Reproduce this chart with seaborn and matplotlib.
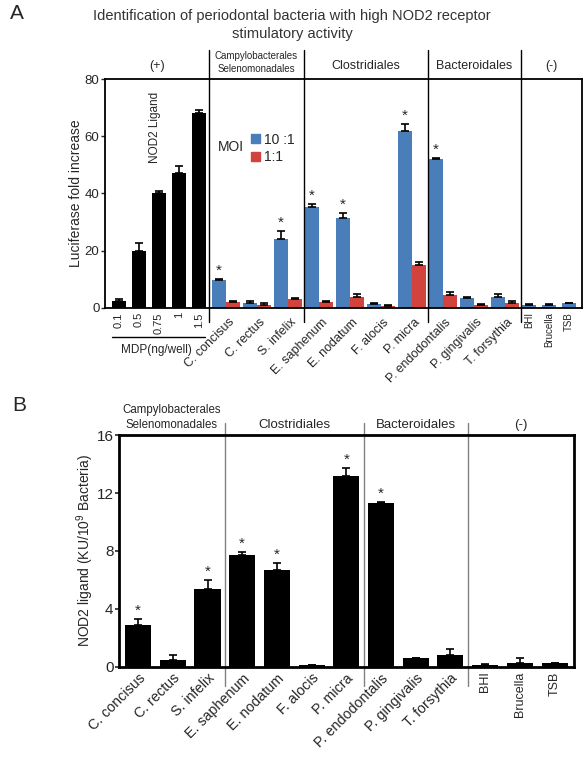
import matplotlib
matplotlib.use('Agg')

import matplotlib.pyplot as plt
import numpy as np
import pandas as pd
import seaborn as sns
from matplotlib.lines import Line2D
from matplotlib.patches import Patch
from matplotlib.transforms import ScaledTranslation

# ---- Panel A: luciferase fold increase ----
mdp_doses = ['0.1', '0.5', '0.75', '1', '1.5']
mdp_values = [2.6, 20.0, 40.0, 47.0, 68.0]
mdp_err = [0.6, 2.6, 1.0, 2.6, 1.3]

bacteria = ['C. concisus', 'C. rectus', 'S. infelix', 'E. saphenum', 'E. nodatum',
            'F. alocis', 'P. micra', 'P. endodontalis', 'P. gingivalis', 'T. forsythia']
moi10_values = [9.8, 1.9, 24.1, 35.2, 31.4, 1.3, 62.0, 52.0, 3.6, 3.7]
moi10_err = [0.4, 0.6, 2.9, 1.1, 1.9, 0.3, 2.2, 0.3, 0.4, 1.3]
moi1_values = [2.2, 1.1, 3.1, 2.1, 4.0, 0.7, 15.0, 4.5, 1.0, 1.6]
moi1_err = [0.4, 0.5, 0.4, 0.3, 0.8, 0.2, 1.2, 1.0, 0.3, 0.8]
moi10_signif = [True, False, True, True, True, False, True, True, False, False]

negatives = ['BHI', 'Brucella', 'TSB']
neg_values = [1.0, 1.0, 1.6]
neg_err = [0.5, 0.3, 0.3]

# ---- Panel B: NOD2 ligand amount ----
b_labels = bacteria + negatives
b_values = [2.9, 0.5, 5.4, 7.7, 6.7, 0.12, 13.2, 11.3, 0.6, 0.8, 0.15, 0.3, 0.25]
b_err = [0.4, 0.3, 0.6, 0.2, 0.45, 0.05, 0.5, 0.05, 0.05, 0.45, 0.05, 0.3, 0.05]
b_signif = [True, False, True, True, True, False, True, True, False, False, False, False, False]

groups_a = ['(+)', 'Campylobacterales\nSelenomonadales', 'Clostridiales', 'Bacteroidales', '(-)']
groups_b = ['Campylobacterales\nSelenomonadales', 'Clostridiales', 'Bacteroidales', '(-)']

BLUE = '#4a7ebb'
RED = '#d2433e'

sns.set_style('ticks')
plt.rcParams['font.family'] = ['Liberation Sans', 'DejaVu Sans']
plt.rcParams['mathtext.default'] = 'regular'

fig = plt.figure(figsize=(5.84, 7.58), dpi=100)
W, H = 584.0, 758.0


def fig_rect(left, top, right, bottom):
    return [left / W, 1 - bottom / H, (right - left) / W, (bottom - top) / H]


# ---------------- Panel A ----------------
ax_a = fig.add_axes(fig_rect(105, 79, 582, 308))

mdp_x = [2.0 * i for i in range(len(mdp_doses))]
blue_x = [10 + 3.1 * k for k in range(len(bacteria))]
red_x = [x + 1.4 for x in blue_x]
neg_x = [41 + 2.0 * k for k in range(len(negatives))]

df_a = pd.DataFrame({
    'pos': mdp_x + blue_x + red_x + neg_x,
    'value': mdp_values + moi10_values + moi1_values + neg_values,
    'err': mdp_err + moi10_err + moi1_err + neg_err,
    'series': ['MDP'] * 5 + ['10:1'] * 10 + ['1:1'] * 10 + ['10:1'] * 3,
})

sns.barplot(data=df_a, x='pos', y='value', hue='series', native_scale=True, dodge=False,
            palette={'MDP': 'black', '10:1': BLUE, '1:1': RED}, width=0.93,
            errorbar=None, saturation=1, linewidth=0, legend=False, ax=ax_a)
ax_a.errorbar(df_a['pos'], df_a['value'], yerr=[np.zeros(len(df_a)), df_a['err']],
              fmt='none', ecolor='black', elinewidth=1.2, capsize=3, capthick=1.2)

for x, v, e, s in zip(blue_x, moi10_values, moi10_err, moi10_signif):
    if s:
        ax_a.annotate('*', xy=(x, v + e), xytext=(0, 1), textcoords='offset points',
                      ha='center', va='bottom', fontsize=11)

ax_a.set_xlim(-1.4, 46.3)
ax_a.set_ylim(0, 80)
ax_a.set_yticks([0, 20, 40, 60, 80])
ax_a.tick_params(axis='y', labelsize=9.5, length=3, width=1, pad=1)
ax_a.tick_params(axis='x', length=0, pad=3)
ax_a.set_xlabel('')
ax_a.set_ylabel('Luciferase fold increase', fontsize=10, labelpad=1)

tick_a = mdp_x + [x + 0.7 for x in blue_x] + neg_x
ax_a.set_xticks(tick_a)
ax_a.set_xticklabels(mdp_doses + bacteria + negatives)
shift = ScaledTranslation(2 / 100, -4 / 100, fig.dpi_scale_trans)
for i, lab in enumerate(ax_a.get_xticklabels()):
    if i < 5:
        lab.set_rotation(90)
        lab.set_fontsize(8)
    elif i < 15:
        lab.set_rotation(45)
        lab.set_ha('right')
        lab.set_va('top')
        lab.set_rotation_mode('anchor')
        lab.set_fontsize(9)
        lab.set_transform(lab.get_transform() + shift)
    else:
        lab.set_rotation(90)
        lab.set_fontsize(7)

for sp in ax_a.spines.values():
    sp.set_visible(True)
    sp.set_linewidth(1.3)
    sp.set_color('black')

div_a = [(mdp_x[-1] + blue_x[0]) / 2, (red_x[2] + blue_x[3]) / 2,
         (red_x[6] + blue_x[7]) / 2, (red_x[9] + neg_x[0]) / 2]
for d in div_a:
    ax_a.axvline(d, ymin=-0.061, ymax=1.127, color='black', lw=1, clip_on=False)

edges_a = [-1.4] + div_a + [46.3]
tr_a = ax_a.get_xaxis_transform()
for i, g in enumerate(groups_a):
    xc = (edges_a[i] + edges_a[i + 1]) / 2
    if '\n' in g:
        top, bot = g.split('\n')
        ax_a.text(xc, 1.100, top, transform=tr_a, ha='center', va='center', fontsize=7)
        ax_a.text(xc, 1.044, bot, transform=tr_a, ha='center', va='center', fontsize=7)
    else:
        ax_a.text(xc, 1.057, g, transform=tr_a, ha='center', va='center', fontsize=9)

# MDP bracket under the dose labels
ax_a.add_line(Line2D([mdp_x[0] - 0.7, mdp_x[-1] + 0.6], [-0.127, -0.127], transform=tr_a,
                     color='black', lw=1, clip_on=False))
ax_a.text(np.mean(mdp_x) - 0.3, -0.183, 'MDP(ng/well)', transform=tr_a, ha='center',
          va='center', fontsize=8.5)
ax_a.text(np.mean(mdp_x) - 0.4, 0.79, 'NOD2 Ligand', transform=tr_a, rotation=90,
          ha='center', va='center', fontsize=8.5)

fig.text(218 / W, 1 - 147 / H, 'MOI', ha='left', va='center', fontsize=10)
fig.legend(handles=[Patch(color=BLUE), Patch(color=RED)], labels=['10 :1', '1:1'],
           loc='upper left', bbox_to_anchor=(241 / W, 1 - 123 / H), frameon=False,
           fontsize=10, handlelength=0.65, handleheight=0.65, handletextpad=0.3,
           labelspacing=0.25, borderpad=0.2)

fig.text(0.5, 1 - 9 / H,
         'Identification of periodontal bacteria with high NOD2 receptor\nstimulatory activity',
         ha='center', va='top', fontsize=10.5, color='#333333', linespacing=1.35)
fig.text(10 / W, 1 - 4 / H, 'A', fontsize=15, va='top')

# ---------------- Panel B ----------------
ax_b = fig.add_axes(fig_rect(119, 435, 574, 667))
sns.barplot(x=b_labels, y=b_values, order=b_labels, color='black', width=0.75,
            errorbar=None, saturation=1, linewidth=0, ax=ax_b)
pos_b = np.arange(len(b_labels))
ax_b.errorbar(pos_b, b_values, yerr=[np.zeros(len(b_values)), b_err], fmt='none',
              ecolor='black', elinewidth=1.2, capsize=3, capthick=1.2)
for x, v, e, s in zip(pos_b, b_values, b_err, b_signif):
    if s:
        ax_b.annotate('*', xy=(x, v + e), xytext=(0, 1), textcoords='offset points',
                      ha='center', va='bottom', fontsize=11)

ax_b.set_xlim(-0.55, 12.56)
ax_b.set_ylim(0, 16)
ax_b.set_yticks([0, 4, 8, 12, 16])
ax_b.tick_params(axis='y', labelsize=11, length=3, width=1.2, pad=1)
ax_b.tick_params(axis='x', length=0, pad=3)
ax_b.set_ylabel('NOD2 ligand (KU/10$^9$ Bacteria)', fontsize=10, labelpad=0)
ax_b.set_xticks(pos_b)
ax_b.set_xticklabels(b_labels)
for i, lab in enumerate(ax_b.get_xticklabels()):
    if i < 10:
        lab.set_rotation(45)
        lab.set_ha('right')
        lab.set_va('top')
        lab.set_rotation_mode('anchor')
        lab.set_fontsize(10.3)
    else:
        lab.set_rotation(90)
        lab.set_fontsize(9)

for sp in ax_b.spines.values():
    sp.set_visible(True)
    sp.set_linewidth(2)
    sp.set_color('black')

div_b = [2.5, 6.5, 9.5]
for d in div_b:
    ax_b.axvline(d, ymin=-0.082, ymax=1.052, color='#808080', lw=1, clip_on=False)

edges_b = [-0.55] + div_b + [12.56]
tr_b = ax_b.get_xaxis_transform()
for i, g in enumerate(groups_b):
    xc = (edges_b[i] + edges_b[i + 1]) / 2
    if '\n' in g:
        top, bot = g.split('\n')
        ax_b.text(xc, 1.108, top, transform=tr_b, ha='center', va='center', fontsize=8.3)
        ax_b.text(xc, 1.043, bot, transform=tr_b, ha='center', va='center', fontsize=8.3)
    else:
        ax_b.text(xc, 1.043, g, transform=tr_b, ha='center', va='center', fontsize=9.5)

fig.text(12 / W, 1 - 396 / H, 'B', fontsize=15, va='top')

fig.savefig('out.png', dpi=100)
plt.close(fig)
